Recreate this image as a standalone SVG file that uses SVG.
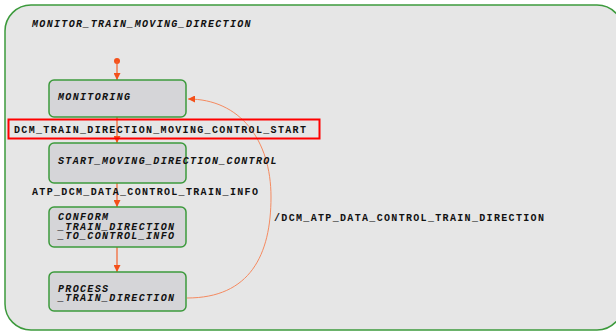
<svg xmlns="http://www.w3.org/2000/svg" width="616" height="331" viewBox="0 0 616 331">
<defs>
<style>
.state{fill:#d5d5d8;stroke:#3c9a3c;stroke-width:1.5}
.sname{font-family:"Liberation Mono",monospace;font-weight:bold;font-style:italic;font-size:10px;letter-spacing:1.33px;fill:#111}
.lbl{font-family:"Liberation Mono",monospace;font-weight:bold;font-size:10px;letter-spacing:1.33px;fill:#111}
.tr{fill:none;stroke:#f4602a;stroke-width:1.2}
.tr2{fill:none;stroke:#f58a60;stroke-width:1}
</style>
<marker id="ah" viewBox="0 0 10 10" refX="10" refY="5" markerWidth="7" markerHeight="7" markerUnits="userSpaceOnUse" orient="auto">
<path d="M0,0 L10,5 L0,10 z" fill="#f4501a"/>
</marker>
</defs>
<rect width="616" height="331" fill="#ffffff"/>
<g id="container">
<rect x="5" y="5" width="618" height="325" rx="26" ry="26" fill="#e6e6e6" stroke="#3c9a3c" stroke-width="1.5"/>
<text class="sname" x="32" y="27">MONITOR_TRAIN_MOVING_DIRECTION</text>
</g>
<g id="connectors">
<circle cx="117" cy="61" r="3" fill="#f4501a"/>
<line class="tr" x1="117" y1="61" x2="117" y2="80" marker-end="url(#ah)"/>
<line class="tr" x1="117" y1="117" x2="117" y2="143" marker-end="url(#ah)"/>
<line class="tr" x1="117" y1="183" x2="117" y2="207" marker-end="url(#ah)"/>
<line class="tr" x1="117" y1="247" x2="117" y2="272" marker-end="url(#ah)"/>
<path class="tr2" d="M187,298 C250,298 271,255 271,197 C271,140 240,99 188,99" marker-end="url(#ah)"/>
<rect x="8.5" y="119.5" width="311" height="19" fill="none" stroke="#ff0000" stroke-width="2"/>
<text class="lbl" x="14" y="132.5">DCM_TRAIN_DIRECTION_MOVING_CONTROL_START</text>
<text class="lbl" x="32" y="194.5">ATP_DCM_DATA_CONTROL_TRAIN_INFO</text>
<text class="lbl" x="274" y="220.5">/DCM_ATP_DATA_CONTROL_TRAIN_DIRECTION</text>
</g>
<g id="monitoring">
<rect class="state" x="49" y="80" width="137" height="37" rx="5"/>
<text class="sname" x="58" y="99.5">MONITORING</text>
</g>
<g id="start_moving">
<rect class="state" x="49" y="143" width="137" height="40" rx="5"/>
<text class="sname" x="58" y="163.5">START_MOVING_DIRECTION_CONTROL</text>
</g>
<g id="conform">
<rect class="state" x="49" y="207" width="137" height="40" rx="5"/>
<text class="sname" x="58" y="220">CONFORM</text>
<text class="sname" x="58" y="229.5">_TRAIN_DIRECTION</text>
<text class="sname" x="58" y="239">_TO_CONTROL_INFO</text>
</g>
<g id="process">
<rect class="state" x="49" y="272" width="137" height="39" rx="5"/>
<text class="sname" x="58" y="291.5">PROCESS</text>
<text class="sname" x="58" y="301">_TRAIN_DIRECTION</text>
</g>
</svg>
